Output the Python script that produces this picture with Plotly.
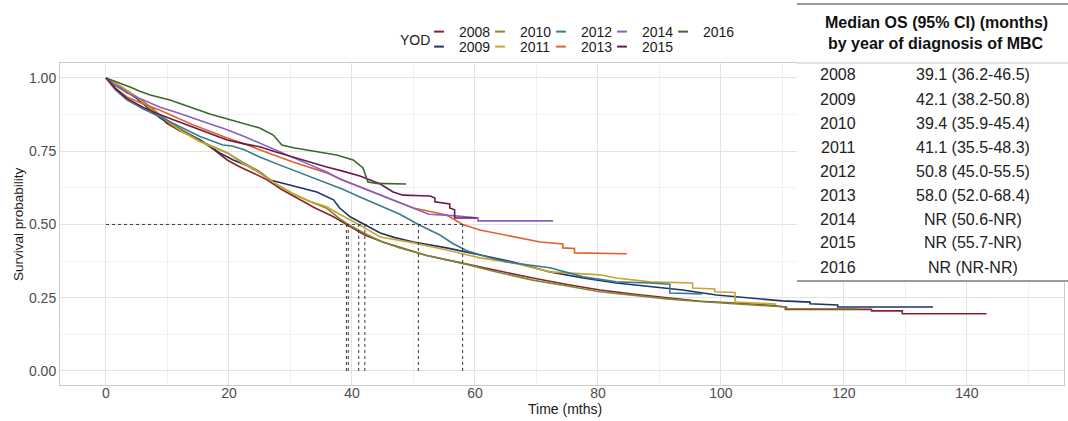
import plotly.graph_objects as go

# ---------------- data ----------------
years = [2008, 2009, 2010, 2011, 2012, 2013, 2014, 2015, 2016]
colors = ["#8F1F29", "#1F3468", "#7A8A38", "#C9A530", "#3B7B8C",
          "#E0622C", "#8560C8", "#6A1B4D", "#3B6630"]

t_2008 = [0, 1.5, 3, 4.4, 6, 7.6, 9.9, 12, 15.3, 17.4, 19.7, 21.8, 24, 26.2, 28.5, 31.5, 34, 37, 39.1, 42, 45, 47.8, 52, 57.9, 63, 69.4, 75, 80.3, 86, 91.2, 96.6, 102, 107, 110.5, 110.5, 124.5, 124.5, 129.5, 129.5, 143.2]
s_2008 = [1, 0.975, 0.958, 0.942, 0.92, 0.894, 0.845, 0.82, 0.788, 0.758, 0.72, 0.696, 0.675, 0.652, 0.62, 0.584, 0.556, 0.526, 0.5, 0.465, 0.44, 0.423, 0.395, 0.368, 0.345, 0.317, 0.295, 0.276, 0.262, 0.25, 0.238, 0.232, 0.226, 0.218, 0.21, 0.21, 0.205, 0.205, 0.195, 0.195]

t_2009 = [0, 2.5, 5, 8.8, 12, 15.3, 18.5, 20.7, 23, 25, 26.7, 29, 31, 34.3, 37, 38, 39.7, 42.1, 44.6, 47, 50, 55.4, 60.8, 66.2, 72.2, 77.6, 83, 88.5, 93.8, 99.3, 104.7, 110, 114.5, 114.5, 119, 119, 134.5]
s_2009 = [1, 0.965, 0.93, 0.863, 0.825, 0.788, 0.744, 0.72, 0.70, 0.676, 0.652, 0.64, 0.628, 0.611, 0.584, 0.556, 0.526, 0.5, 0.471, 0.455, 0.44, 0.42, 0.396, 0.372, 0.338, 0.317, 0.30, 0.287, 0.276, 0.259, 0.249, 0.239, 0.235, 0.229, 0.225, 0.218, 0.218]

t_2010 = [0, 2.5, 5, 7.5, 10, 12.5, 15.3, 19.7, 22, 25, 27.5, 30.4, 33, 35.9, 38, 39.4, 42, 45, 47.8, 52, 57.9, 63, 69.4, 75, 80.3, 86, 91.2, 96, 102, 106, 110.7, 110.7, 122.3]
s_2010 = [1, 0.97, 0.935, 0.895, 0.855, 0.82, 0.785, 0.745, 0.715, 0.68, 0.64, 0.605, 0.58, 0.555, 0.52, 0.5, 0.47, 0.44, 0.42, 0.395, 0.368, 0.34, 0.31, 0.29, 0.27, 0.258, 0.246, 0.238, 0.23, 0.225, 0.218, 0.212, 0.212]

t_2011 = [0, 2.5, 5, 7.5, 10.4, 12.5, 15.3, 19.7, 22, 25, 27.5, 30.4, 33, 35.9, 38, 41.1, 44.6, 50, 55.4, 60.8, 66.2, 72.2, 80.3, 83, 88.5, 95.4, 95.4, 99, 99, 102.3, 102.3, 109]
s_2011 = [1, 0.97, 0.935, 0.89, 0.845, 0.815, 0.782, 0.744, 0.712, 0.676, 0.64, 0.605, 0.58, 0.56, 0.535, 0.5, 0.457, 0.437, 0.413, 0.386, 0.369, 0.338, 0.328, 0.317, 0.304, 0.30, 0.283, 0.28, 0.27, 0.268, 0.235, 0.228]

t_2012 = [0, 1.5, 3.4, 6, 8.8, 12, 15.3, 19, 20.5, 22.5, 25, 28, 30.4, 33, 35.9, 38.5, 41.3, 44.6, 47.8, 50.8, 52.7, 54.3, 56.4, 58.7, 62, 65.2, 68.5, 72.2, 77.6, 83, 88.5, 91.7, 91.7, 97]
s_2012 = [1, 0.96, 0.925, 0.895, 0.867, 0.835, 0.80, 0.771, 0.768, 0.755, 0.73, 0.705, 0.686, 0.665, 0.642, 0.62, 0.594, 0.565, 0.535, 0.5, 0.481, 0.464, 0.435, 0.41, 0.389, 0.372, 0.362, 0.352, 0.321, 0.304, 0.30, 0.296, 0.266, 0.263]

t_2013 = [0, 1.5, 3.4, 6, 8.8, 11.5, 14.1, 17, 19.7, 22.5, 25, 27.5, 30.4, 33, 35.9, 38.5, 41.3, 44, 46.7, 50, 55.4, 58, 60.8, 63.5, 66.2, 70.6, 74.3, 74.3, 76.2, 76.2, 84.7]
s_2013 = [1, 0.965, 0.935, 0.912, 0.89, 0.865, 0.84, 0.817, 0.795, 0.775, 0.754, 0.735, 0.713, 0.695, 0.676, 0.652, 0.628, 0.605, 0.584, 0.556, 0.532, 0.5, 0.481, 0.47, 0.457, 0.44, 0.433, 0.42, 0.418, 0.403, 0.40]

t_2014 = [0, 1.5, 3.4, 6, 8.8, 11.5, 14.1, 17, 19.7, 22.5, 25, 27.5, 30.4, 33, 35.9, 38, 41.3, 43.3, 46.7, 50, 52.5, 56.4, 58.7, 60.5, 60.5, 72.7]
s_2014 = [1, 0.975, 0.949, 0.925, 0.90, 0.882, 0.863, 0.843, 0.823, 0.80, 0.778, 0.755, 0.73, 0.705, 0.679, 0.655, 0.628, 0.611, 0.584, 0.556, 0.535, 0.53, 0.526, 0.522, 0.512, 0.512]

t_2015 = [0, 1.5, 3.4, 6, 8.8, 11.5, 14.1, 17, 19.7, 22.5, 25, 27.5, 30.4, 33, 35.9, 38.5, 41.3, 44.6, 46.7, 48.3, 52.7, 53.5, 53.5, 55.9, 55.9, 56.7, 56.7, 60.3]
s_2015 = [1, 0.965, 0.93, 0.9, 0.874, 0.853, 0.833, 0.81, 0.788, 0.775, 0.765, 0.748, 0.73, 0.712, 0.696, 0.682, 0.665, 0.638, 0.611, 0.60, 0.597, 0.59, 0.577, 0.57, 0.556, 0.55, 0.522, 0.522]

t_2016 = [0, 2, 3.9, 5.5, 7.2, 10.4, 13.7, 16.9, 20.2, 23.4, 25, 27.2, 28.6, 30.5, 32.7, 35, 37.5, 40.2, 41.8, 42.6, 44, 48.8]
s_2016 = [1, 0.985, 0.969, 0.955, 0.942, 0.925, 0.901, 0.877, 0.857, 0.84, 0.829, 0.805, 0.771, 0.762, 0.754, 0.745, 0.737, 0.72, 0.693, 0.645, 0.64, 0.638]

times = [t_2008, t_2009, t_2010, t_2011, t_2012, t_2013, t_2014, t_2015, t_2016]
survs = [s_2008, s_2009, s_2010, s_2011, s_2012, s_2013, s_2014, s_2015, s_2016]

# medians reached (2008-2013)
median_years = [2008, 2009, 2010, 2011, 2012, 2013]
medians = [39.1, 42.1, 39.4, 41.1, 50.8, 58.0]

# table
table_median = ["39.1", "42.1", "39.4", "41.1", "50.8", "58.0", "NR", "NR", "NR"]
table_lo = ["36.2", "38.2", "35.9", "35.5", "45.0", "52.0", "50.6", "55.7", "NR"]
table_hi = ["46.5", "50.8", "45.4", "48.3", "55.5", "68.4", "NR", "NR", "NR"]
table_title = ["Median OS (95% CI) (months)", "by year of diagnosis of MBC"]

x_ticks = [0, 20, 40, 60, 80, 100, 120, 140]
y_ticks = [0, 0.25, 0.5, 0.75, 1.0]

# ---------------- layout geometry (pixels) ----------------
W, H = 1068, 421
PL, PR, PT, PB = 60, 1064, 63, 385
FONT = "Liberation Sans, Arial, Helvetica, sans-serif"


def px_x(px):
    return (px - PL) / (PR - PL)


def px_y(py):
    return (PB - py) / (PB - PT)


fig = go.Figure()

for yr, c, t, s in zip(years, colors, times, survs):
    fig.add_trace(go.Scatter(x=t, y=s, mode="lines", name=str(yr),
                             line=dict(color=c, width=1.6),
                             showlegend=False, hoverinfo="skip"))

# median guides
gx = [0, max(medians), None]
gy = [0.5, 0.5, None]
for m in medians:
    gx += [m, m, None]
    gy += [0, 0.5, None]
fig.add_trace(go.Scatter(x=gx, y=gy, mode="lines", showlegend=False,
                         hoverinfo="skip",
                         line=dict(color="#333333", width=1, dash="3px,3px")))

# legend (one small legend per key, arranged in 2 rows x 5 columns)
col_px = [419, 480, 541, 602, 663]
row_px = [32, 47]
layout_legends = {}
for i, (yr, c) in enumerate(zip(years, colors)):
    lname = "legend" if i == 0 else f"legend{i + 1}"
    fig.add_trace(go.Scatter(x=[None], y=[None], mode="markers", name=str(yr),
                             legend=lname, showlegend=True, hoverinfo="skip",
                             marker=dict(symbol="line-ew-open", size=7, color=c,
                                         line=dict(color=c, width=2))))
    layout_legends[lname] = dict(
        x=col_px[i // 2] / W, y=1 - row_px[i % 2] / H,
        xref="container", yref="container",
        xanchor="left", yanchor="middle",
        bgcolor="rgba(0,0,0,0)", borderwidth=0,
        font=dict(size=14, color="#1a1a1a", family=FONT),
        itemwidth=30)

annotations = [
    dict(text="YOD", x=px_x(415), y=px_y(40), xref="paper", yref="paper",
         showarrow=False, xanchor="center", yanchor="middle",
         font=dict(size=14, color="#1a1a1a", family=FONT)),
    dict(text="Time (mths)", x=px_x(565), y=px_y(409), xref="paper", yref="paper",
         showarrow=False, xanchor="center", yanchor="middle",
         font=dict(size=14, color="#1a1a1a", family=FONT)),
    dict(text="Survival probability", x=px_x(18), y=px_y(224), xref="paper", yref="paper",
         showarrow=False, xanchor="center", yanchor="middle", textangle=-90,
         font=dict(size=13.5, color="#1a1a1a", family=FONT)),
]

# table text
for k, line in enumerate(table_title):
    annotations.append(dict(text=f"<b>{line}</b>", x=px_x(936), y=px_y(22 + 21 * k),
                            xref="paper", yref="paper", showarrow=False,
                            xanchor="center", yanchor="middle",
                            font=dict(size=16, color="#111111", family=FONT)))
for k, yr in enumerate(years):
    yy = px_y(75 + 24 * k)
    annotations.append(dict(text=str(yr), x=px_x(838), y=yy, xref="paper", yref="paper",
                            showarrow=False, xanchor="center", yanchor="middle",
                            font=dict(size=16, color="#222222", family=FONT)))
    annotations.append(dict(text=f"{table_median[k]} ({table_lo[k]}-{table_hi[k]})",
                            x=px_x(973), y=yy, xref="paper", yref="paper",
                            showarrow=False, xanchor="center", yanchor="middle",
                            font=dict(size=16, color="#222222", family=FONT)))

shapes = [
    dict(type="rect", xref="paper", yref="paper", layer="above",
         x0=px_x(797), x1=px_x(1068), y0=px_y(282), y1=px_y(0),
         fillcolor="white", line=dict(width=0)),
    dict(type="line", xref="paper", yref="paper", layer="above",
         x0=px_x(797), x1=px_x(1068), y0=px_y(4), y1=px_y(4),
         line=dict(color="#9a9a9a", width=2)),
    dict(type="line", xref="paper", yref="paper", layer="above",
         x0=px_x(797), x1=px_x(1068), y0=px_y(63), y1=px_y(63),
         line=dict(color="#c4c4c4", width=1)),
    dict(type="line", xref="paper", yref="paper", layer="above",
         x0=px_x(797), x1=px_x(1068), y0=px_y(281), y1=px_y(281),
         line=dict(color="#7a7a7a", width=1.5)),
]

fig.update_layout(
    width=W, height=H,
    margin=dict(l=PL, r=W - PR, t=PT, b=H - PB, autoexpand=False),
    paper_bgcolor="white", plot_bgcolor="white",
    font=dict(family=FONT, size=14, color="#1a1a1a"),
    annotations=annotations, shapes=shapes,
    **layout_legends,
)

fig.update_xaxes(range=[-7.48, 155.8], tickvals=x_ticks, automargin=False,
                 ticklabelstandoff=-5,
                 showgrid=True, gridcolor="#e3e3e3", gridwidth=1,
                 minor=dict(dtick=10, tick0=0, showgrid=True, gridcolor="#f1f1f1", gridwidth=1),
                 zeroline=False, showline=True, mirror=True,
                 linecolor="#cccccc", linewidth=1,
                 tickfont=dict(size=14, color="#4d4d4d"))
fig.update_yaxes(range=[-0.048, 1.051], tickvals=y_ticks, tickformat=".2f", automargin=False,
                 showgrid=True, gridcolor="#e3e3e3", gridwidth=1,
                 minor=dict(dtick=0.125, tick0=0, showgrid=True, gridcolor="#f1f1f1", gridwidth=1),
                 zeroline=False, showline=True, mirror=True,
                 linecolor="#cccccc", linewidth=1,
                 tickfont=dict(size=14, color="#4d4d4d"))

fig.write_html("out.html")
